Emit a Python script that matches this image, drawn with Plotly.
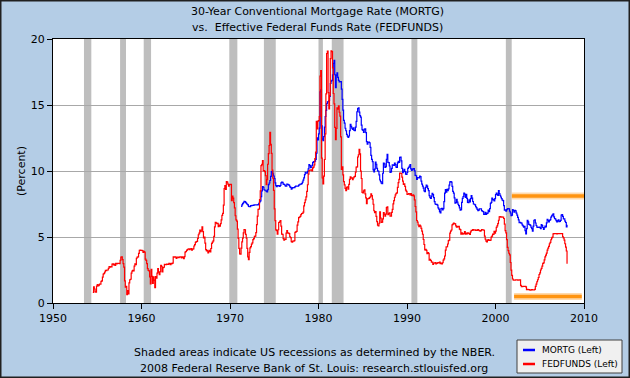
import plotly.graph_objects as go

# ---------------- data (monthly) ----------------
fed_1950s_start = (1954, 7)
fed_1950s = [0.80, 1.22, 1.06, 0.85, 0.83, 1.28,
             1.39, 1.29, 1.35, 1.43, 1.43, 1.64, 1.68, 1.96, 2.18, 2.24, 2.35, 2.48,
             2.45, 2.50, 2.50, 2.62, 2.75, 2.71, 2.75, 2.73, 2.95, 2.96, 2.88, 2.94,
             2.84, 3.00, 2.96, 3.00, 3.00, 3.00, 2.99, 3.24, 3.47, 3.50, 3.28, 2.98,
             2.72, 1.67, 1.20, 1.26, 0.63, 0.93, 0.68, 1.53, 1.76, 1.80, 2.27, 2.42,
             2.48, 2.43, 2.80, 2.96, 2.90, 3.39, 3.47, 3.50, 3.76, 3.98, 4.00, 3.99]
fed_1960s = [3.99, 3.97, 3.84, 3.92, 3.85, 3.32, 3.23, 2.98, 2.60, 2.47, 2.44, 1.98,
             1.45, 2.54, 2.02, 1.49, 1.98, 1.73, 1.16, 2.00, 1.88, 2.26, 2.61, 2.33,
             2.15, 2.37, 2.85, 2.78, 2.36, 2.68, 2.71, 2.93, 2.90, 2.90, 2.94, 2.93,
             2.92, 3.00, 2.98, 2.90, 3.00, 2.99, 3.02, 3.49, 3.48, 3.50, 3.48, 3.38,
             3.48, 3.48, 3.43, 3.47, 3.50, 3.50, 3.42, 3.50, 3.45, 3.36, 3.52, 3.85,
             3.90, 3.98, 4.04, 4.09, 4.10, 4.04, 4.09, 4.12, 4.01, 4.08, 4.10, 4.32,
             4.42, 4.60, 4.65, 4.67, 4.90, 5.17, 5.30, 5.53, 5.40, 5.53, 5.76, 5.40,
             4.94, 5.00, 4.53, 4.05, 3.94, 3.98, 3.79, 3.90, 3.99, 3.88, 4.13, 4.51,
             4.61, 4.71, 5.05, 5.76, 6.11, 6.07, 6.02, 6.03, 5.78, 5.91, 5.82, 6.02,
             6.30, 6.64, 6.79, 7.41, 8.67, 8.90, 8.61, 9.19, 9.15, 9.00, 8.85, 8.97]
fed_1970s = [8.98, 8.98, 7.76, 8.10, 7.95, 7.61, 7.21, 6.61, 6.29, 6.20, 5.60, 4.90,
             4.14, 3.72, 3.71, 4.16, 4.63, 4.91, 5.31, 5.57, 5.55, 5.20, 4.91, 4.14,
             3.50, 3.29, 3.83, 4.17, 4.27, 4.46, 4.55, 4.80, 4.87, 5.04, 5.06, 5.33,
             5.94, 6.58, 7.09, 7.12, 7.84, 8.49, 10.40, 10.50, 10.78, 10.01, 10.03, 9.95,
             9.65, 8.97, 9.35, 10.51, 11.31, 11.93, 12.92, 12.01, 11.34, 10.06, 9.45, 8.53,
             7.13, 6.24, 5.54, 5.49, 5.22, 5.55, 6.10, 6.14, 6.24, 5.82, 5.22, 5.20,
             4.87, 4.77, 4.84, 4.82, 5.29, 5.48, 5.31, 5.29, 5.25, 5.02, 4.95, 4.65,
             4.61, 4.68, 4.69, 4.73, 5.35, 5.39, 5.42, 5.90, 6.14, 6.47, 6.51, 6.56,
             6.70, 6.78, 6.79, 6.89, 7.36, 7.60, 7.81, 8.04, 8.45, 8.96, 9.76, 10.03,
             10.07, 10.06, 10.09, 10.01, 10.24, 10.29, 10.47, 10.94, 11.43, 13.77, 13.18, 13.78]
fed_1980s = [13.82, 14.13, 17.19, 17.61, 10.98, 9.47, 9.03, 9.61, 10.87, 12.81, 15.85, 18.90,
             19.08, 15.93, 14.70, 15.72, 18.52, 19.10, 19.04, 17.82, 15.87, 15.08, 13.31, 12.37,
             13.22, 14.78, 14.68, 14.94, 14.45, 14.15, 12.59, 10.12, 10.31, 9.71, 9.20, 8.95,
             8.68, 8.51, 8.77, 8.80, 8.63, 8.98, 9.37, 9.56, 9.45, 9.48, 9.34, 9.47,
             9.56, 9.59, 9.91, 10.29, 10.32, 11.06, 11.23, 11.64, 11.30, 9.99, 9.43, 8.38,
             8.35, 8.50, 8.58, 8.27, 7.97, 7.53, 7.88, 7.90, 7.92, 7.99, 8.05, 8.27,
             8.14, 7.86, 7.48, 6.99, 6.85, 6.92, 6.56, 6.17, 5.89, 5.85, 6.04, 6.91,
             6.43, 6.10, 6.13, 6.37, 6.85, 6.73, 6.58, 6.73, 7.22, 7.29, 6.69, 6.77,
             6.83, 6.58, 6.58, 6.87, 7.09, 7.51, 7.75, 8.01, 8.19, 8.30, 8.35, 8.76,
             9.12, 9.36, 9.85, 9.84, 9.81, 9.53, 9.24, 8.99, 9.02, 8.84, 8.55, 8.45]
fed_1990s = [8.23, 8.24, 8.28, 8.26, 8.18, 8.29, 8.15, 8.13, 8.20, 8.11, 7.81, 7.31,
             6.91, 6.25, 6.12, 5.91, 5.78, 5.90, 5.82, 5.66, 5.45, 5.21, 4.81, 4.43,
             4.03, 4.06, 3.98, 3.73, 3.82, 3.76, 3.25, 3.30, 3.22, 3.10, 3.09, 2.92,
             3.02, 3.03, 3.07, 2.96, 3.00, 3.04, 3.06, 3.03, 3.09, 2.99, 3.02, 2.96,
             3.05, 3.25, 3.34, 3.56, 4.01, 4.25, 4.26, 4.47, 4.73, 4.76, 5.29, 5.45,
             5.53, 5.92, 5.98, 6.05, 6.01, 6.00, 5.85, 5.74, 5.80, 5.76, 5.80, 5.60,
             5.56, 5.22, 5.31, 5.22, 5.24, 5.27, 5.40, 5.22, 5.30, 5.24, 5.31, 5.29,
             5.25, 5.19, 5.39, 5.51, 5.50, 5.56, 5.52, 5.54, 5.54, 5.50, 5.52, 5.50,
             5.56, 5.51, 5.49, 5.45, 5.49, 5.56, 5.54, 5.55, 5.51, 5.07, 4.83, 4.68,
             4.63, 4.76, 4.81, 4.74, 4.74, 4.76, 4.99, 5.07, 5.22, 5.20, 5.42, 5.30]
fed_2000s = [5.45, 5.73, 5.85, 6.02, 6.27, 6.53, 6.54, 6.50, 6.52, 6.51, 6.51, 6.40,
             5.98, 5.49, 5.31, 4.80, 4.21, 3.97, 3.77, 3.65, 3.07, 2.49, 2.09, 1.82,
             1.73, 1.74, 1.73, 1.75, 1.75, 1.75, 1.73, 1.74, 1.75, 1.75, 1.34, 1.24,
             1.24, 1.26, 1.25, 1.26, 1.26, 1.22, 1.01, 1.03, 1.01, 1.01, 1.00, 0.98,
             1.00, 1.01, 1.00, 1.00, 1.00, 1.03, 1.26, 1.43, 1.61, 1.76, 1.93, 2.16,
             2.28, 2.50, 2.63, 2.79, 3.00, 3.04, 3.26, 3.50, 3.62, 3.78, 4.00, 4.16,
             4.29, 4.49, 4.59, 4.79, 4.94, 4.99, 5.24, 5.25, 5.25, 5.25, 5.25, 5.24,
             5.25, 5.26, 5.26, 5.25, 5.25, 5.25, 5.26, 5.02, 4.94, 4.76, 4.49, 4.24,
             3.94, 2.98]

mortg_1970s_start = (1971, 4)
mortg_1970s = [7.31, 7.43, 7.53, 7.60, 7.70, 7.69, 7.63, 7.55, 7.48,
               7.44, 7.32, 7.29, 7.29, 7.37, 7.37, 7.40, 7.40, 7.42, 7.43, 7.43, 7.44,
               7.44, 7.44, 7.46, 7.54, 7.65, 7.73, 8.05, 8.50, 8.82, 8.77, 8.58, 8.54,
               8.54, 8.46, 8.41, 8.58, 8.97, 9.09, 9.28, 9.59, 9.96, 9.98, 9.79, 9.62,
               9.43, 9.10, 8.89, 8.82, 8.89, 8.89, 8.87, 8.84, 8.90, 9.10, 9.16, 9.14,
               9.00, 8.99, 8.94, 8.85, 8.86, 9.00, 8.99, 8.97, 8.91, 8.80, 8.76, 8.63,
               8.71, 8.74, 8.74, 8.74, 8.81, 8.86, 8.86, 8.85, 8.86, 8.93, 8.96, 9.00,
               9.01, 9.04, 9.15, 9.31, 9.48, 9.72, 9.90, 9.85, 9.83, 9.97, 10.17, 10.49,
               10.41, 10.26, 10.29, 10.42, 10.63, 10.72, 10.70, 10.74, 10.87, 11.36, 12.51, 12.36]
mortg_1980s = [12.82, 13.25, 15.99, 16.14, 13.42, 12.42, 12.29, 12.61, 13.33, 14.13, 14.60, 15.10,
               15.23, 15.26, 15.34, 15.65, 16.63, 16.81, 16.86, 17.29, 18.16, 18.39, 17.29, 16.31,
               17.26, 17.44, 17.10, 16.87, 16.75, 16.77, 16.78, 16.21, 15.43, 14.61, 13.83, 13.62,
               13.24, 13.05, 12.78, 12.64, 12.55, 12.65, 13.06, 13.54, 13.38, 13.24, 13.15, 13.27,
               13.08, 13.06, 13.33, 13.76, 14.49, 14.73, 14.79, 14.46, 14.19, 14.08, 13.48, 13.13,
               13.08, 12.92, 13.17, 13.20, 12.91, 12.22, 12.03, 12.19, 12.19, 12.14, 11.79, 11.18,
               10.88, 10.71, 10.08, 9.94, 10.14, 10.68, 10.51, 10.20, 10.01, 9.98, 9.70, 9.32,
               9.20, 9.08, 9.04, 9.83, 10.60, 10.54, 10.28, 10.33, 10.89, 11.26, 10.65, 10.64,
               10.38, 9.89, 9.93, 10.20, 10.46, 10.46, 10.43, 10.60, 10.48, 10.30, 10.27, 10.61,
               10.73, 10.65, 11.03, 11.05, 10.77, 10.20, 9.88, 9.99, 10.13, 9.95, 9.77, 9.74]
mortg_1990s = [9.90, 10.20, 10.27, 10.37, 10.48, 10.16, 10.04, 10.10, 10.18, 10.18, 10.01, 9.67,
               9.64, 9.37, 9.50, 9.49, 9.47, 9.62, 9.58, 9.24, 9.01, 8.86, 8.71, 8.50,
               8.43, 8.76, 8.94, 8.85, 8.67, 8.51, 8.13, 7.98, 7.92, 8.09, 8.31, 8.22,
               7.99, 7.68, 7.50, 7.47, 7.47, 7.42, 7.21, 7.11, 6.92, 6.83, 7.16, 7.17,
               7.06, 7.15, 7.68, 8.32, 8.60, 8.40, 8.61, 8.51, 8.64, 8.93, 9.17, 9.20,
               9.15, 8.83, 8.46, 8.32, 7.96, 7.57, 7.61, 7.86, 7.64, 7.48, 7.38, 7.20,
               7.03, 7.08, 7.62, 7.93, 8.07, 8.32, 8.25, 8.00, 8.23, 7.92, 7.62, 7.60,
               7.82, 7.65, 7.90, 8.14, 7.94, 7.69, 7.50, 7.48, 7.43, 7.29, 7.21, 7.10,
               6.99, 7.04, 7.13, 7.14, 7.14, 7.00, 6.95, 6.92, 6.72, 6.71, 6.87, 6.72,
               6.79, 6.81, 7.04, 6.92, 7.15, 7.55, 7.63, 7.94, 7.82, 7.85, 7.74, 7.91]
mortg_2000s = [8.21, 8.33, 8.24, 8.15, 8.52, 8.29, 8.15, 8.03, 7.91, 7.80, 7.75, 7.38,
               7.03, 7.05, 6.95, 7.08, 7.15, 7.16, 7.13, 6.95, 6.82, 6.62, 6.66, 7.07,
               7.00, 6.89, 7.01, 6.99, 6.81, 6.65, 6.49, 6.29, 6.09, 6.11, 6.07, 6.05,
               5.92, 5.84, 5.75, 5.81, 5.48, 5.23, 5.63, 6.26, 6.15, 5.95, 5.93, 5.88,
               5.74, 5.64, 5.45, 5.83, 6.27, 6.29, 6.06, 5.87, 5.75, 5.72, 5.73, 5.75,
               5.71, 5.63, 5.93, 5.86, 5.72, 5.58, 5.70, 5.82, 5.77, 6.07, 6.33, 6.27,
               6.15, 6.25, 6.32, 6.51, 6.60, 6.68, 6.76, 6.52, 6.40, 6.36, 6.24, 6.14,
               6.22, 6.29, 6.16, 6.18, 6.26, 6.66, 6.70, 6.57, 6.38, 6.38, 6.21, 6.10,
               5.76, 5.92]

# NBER recessions (start, end) as decimal years
recession_starts = [1953.50, 1957.58, 1960.25, 1969.92, 1973.83, 1980.00, 1981.50, 1990.50, 2001.17]
recession_ends   = [1954.33, 1958.25, 1961.08, 1970.83, 1975.17, 1980.50, 1982.83, 1991.17, 2001.83]

# orange highlight marks (levels and spans)
highlight_levels = [8.1, 0.5]
highlight_starts = [2001.85, 2002.1]
highlight_ends   = [2010.0, 2009.75]

x_ticks = [1950, 1960, 1970, 1980, 1990, 2000, 2010]
y_ticks = [0, 5, 10, 15, 20]
series_names = ["MORTG (Left)", "FEDFUNDS (Left)"]
series_colors = ["#0000FF", "#FF0000"]


def monthly_x(start, n):
    y0, m0 = start
    return [y0 + (m0 - 1 + i) / 12.0 for i in range(n)]


fed_vals = fed_1950s + fed_1960s + fed_1970s + fed_1980s + fed_1990s + fed_2000s
mortg_vals = mortg_1970s + mortg_1980s + mortg_1990s + mortg_2000s
fed_x = monthly_x(fed_1950s_start, len(fed_vals))
mortg_x = monthly_x(mortg_1970s_start, len(mortg_vals))

FONT = "DejaVu Sans"
fig = go.Figure()

fig.add_trace(go.Scatter(x=mortg_x, y=mortg_vals, mode="lines", name=series_names[0],
                         line=dict(color=series_colors[0], width=1.2, shape="hv")))
fig.add_trace(go.Scatter(x=fed_x, y=fed_vals, mode="lines", name=series_names[1],
                         line=dict(color=series_colors[1], width=1.2, shape="hv")))

# orange highlight lines (glow + core)
for lvl, s, e in zip(highlight_levels, highlight_starts, highlight_ends):
    fig.add_trace(go.Scatter(x=[s, e], y=[lvl, lvl], mode="lines", showlegend=False,
                             hoverinfo="skip", line=dict(color="rgba(255,150,20,0.35)", width=7)))
    fig.add_trace(go.Scatter(x=[s, e], y=[lvl, lvl], mode="lines", showlegend=False,
                             hoverinfo="skip", line=dict(color="#FF9410", width=3.5)))

pw, ph = 531.0, 264.0
L, T = 53.0, 39.0


def px(xp):
    return (xp - L) / pw


def py(yp):
    return (T + ph - yp) / ph


shapes = []
for s, e in zip(recession_starts, recession_ends):
    shapes.append(dict(type="rect", xref="x", yref="paper", x0=s, x1=e, y0=0, y1=1,
                       fillcolor="#BEBEBE", line=dict(width=0), layer="between"))
# outer dark frame of the image
shapes.append(dict(type="rect", xref="paper", yref="paper",
                   x0=px(0.5), x1=px(629.5), y0=py(377.5), y1=py(0.5),
                   line=dict(color="#202020", width=2), fillcolor="rgba(0,0,0,0)", layer="above"))
# legend box
shapes.append(dict(type="rect", xref="paper", yref="paper",
                   x0=px(517), x1=px(622), y0=py(373), y1=py(340),
                   line=dict(color="#404040", width=1), fillcolor="#F0F0F0", layer="above"))
annotations = [
    dict(text="30-Year Conventional Mortgage Rate (MORTG)", xref="paper", yref="paper",
         x=px(317), y=py(11), showarrow=False,
         font=dict(family=FONT, size=11), xanchor="center", yanchor="middle"),
    dict(text="vs.  Effective Federal Funds Rate (FEDFUNDS)", xref="paper", yref="paper",
         x=px(317), y=py(28), showarrow=False,
         font=dict(family=FONT, size=11), xanchor="center", yanchor="middle"),
    dict(text="Shaded areas indicate US recessions as determined by the NBER.",
         xref="paper", yref="paper", x=px(314), y=py(352),
         showarrow=False, font=dict(family=FONT, size=11), xanchor="center", yanchor="middle"),
    dict(text="2008 Federal Reserve Bank of St. Louis: research.stlouisfed.org",
         xref="paper", yref="paper", x=px(314), y=py(368),
         showarrow=False, font=dict(family=FONT, size=11), xanchor="center", yanchor="middle"),
]
legend_rows = [350, 364]
for name, col, yy in zip(series_names, series_colors, legend_rows):
    shapes.append(dict(type="line", xref="paper", yref="paper",
                       x0=px(523), x1=px(535), y0=py(yy), y1=py(yy),
                       line=dict(color=col, width=2.5), layer="above"))
    annotations.append(dict(text=name, xref="paper", yref="paper", x=px(540), y=py(yy),
                            showarrow=False, xanchor="left", yanchor="middle",
                            font=dict(family=FONT, size=9, color="#000000")))

fig.update_layout(
    width=630, height=378,
    margin=dict(l=53, r=46, t=39, b=75, autoexpand=False),
    paper_bgcolor="#B4CDE6", plot_bgcolor="#FFFFFF",
    font=dict(family=FONT, size=11, color="#000000"),
    shapes=shapes, annotations=annotations,
    showlegend=False,
)

fig.update_xaxes(range=[1950, 2010], tickvals=x_ticks, ticktext=[str(t) for t in x_ticks],
                 showgrid=False, zeroline=False, showline=True, linecolor="#000000", linewidth=1,
                 mirror=True, ticks="outside", ticklen=5, tickcolor="#000000",
                 tickfont=dict(family=FONT, size=11))
fig.update_yaxes(range=[0, 20], tickvals=y_ticks, showgrid=True, gridcolor="#A8A8A8", gridwidth=1,
                 zeroline=False, showline=True, linecolor="#000000", linewidth=1, mirror=True,
                 ticks="outside", ticklen=5, tickcolor="#000000",
                 title=dict(text="(Percent)", font=dict(family=FONT, size=11), standoff=2),
                 tickfont=dict(family=FONT, size=11))

fig.write_html("out.html", config={"displayModeBar": False},
               post_script="document.body.style.margin='0';document.body.style.overflow='hidden';")
